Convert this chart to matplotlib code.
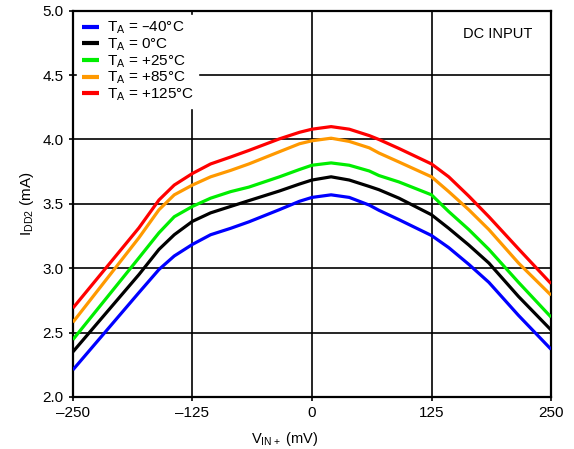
import matplotlib.pyplot as plt

plt.rcParams['font.family'] = ['Liberation Sans', 'DejaVu Sans']
plt.rcParams['mathtext.default'] = 'regular'

vin = [-250, -181, -160, -144, -125, -106, -85, -66, -34, -13, 0, 20, 39, 60, 70, 91,
       125, 143, 164, 185, 216, 250]

idd_m40 = [2.21, 2.81, 2.99, 3.095, 3.185, 3.26, 3.31, 3.36, 3.455, 3.52, 3.55, 3.57,
           3.55, 3.49, 3.45, 3.377, 3.254, 3.16, 3.03, 2.89, 2.633, 2.37]
idd_0 = [2.35, 2.95, 3.146, 3.26, 3.364, 3.43, 3.48, 3.525, 3.60, 3.654, 3.685, 3.71,
         3.685, 3.635, 3.61, 3.544, 3.415, 3.31, 3.18, 3.04, 2.78, 2.52]
idd_25 = [2.445, 3.08, 3.275, 3.40, 3.48, 3.544, 3.595, 3.63, 3.71, 3.767, 3.80, 3.818,
          3.80, 3.755, 3.72, 3.67, 3.57, 3.44, 3.30, 3.146, 2.89, 2.62]
idd_85 = [2.58, 3.236, 3.454, 3.57, 3.646, 3.71, 3.76, 3.81, 3.905, 3.967, 3.99, 4.01,
          3.985, 3.935, 3.895, 3.825, 3.71, 3.595, 3.454, 3.30, 3.04, 2.79]
idd_125 = [2.69, 3.313, 3.53, 3.646, 3.736, 3.81, 3.864, 3.915, 4.005, 4.056, 4.08, 4.10,
           4.08, 4.03, 4.0, 3.93, 3.81, 3.71, 3.56, 3.40, 3.15, 2.88]

labels = ['T$_A$ = –40°C', 'T$_A$ = 0°C', 'T$_A$ = +25°C', 'T$_A$ = +85°C', 'T$_A$ = +125°C']
colors = ['#0000ff', '#000000', '#00ee00', '#ff9900', '#ff0000']

fig = plt.figure(figsize=(5.74, 4.49), dpi=100)
ax = fig.add_axes([0.127, 0.116, 0.833, 0.86])

for y, lab, c in zip([idd_m40, idd_0, idd_25, idd_85, idd_125], labels, colors):
    ax.plot(vin, y, color=c, lw=2.3, label=lab, zorder=3,
            solid_joinstyle='round', solid_capstyle='butt')

ax.set_xlim(-250, 250)
ax.set_ylim(2.0, 5.0)
ax.set_xticks([-250, -125, 0, 125, 250])
ax.set_xticklabels(['–250', '–125', '0', '125', '250'])
ax.set_yticks([2.0, 2.5, 3.0, 3.5, 4.0, 4.5, 5.0])
ax.set_yticklabels(['2.0', '2.5', '3.0', '3.5', '4.0', '4.5', '5.0'])
ax.tick_params(labelsize=11, length=3, width=1.2)
ax.grid(True, color='black', lw=1.2, zorder=1)
ax.set_axisbelow(True)
for s in ax.spines.values():
    s.set_linewidth(1.6)

ax.set_xlabel('V$_{IN+}$ (mV)', fontsize=10.5)
ax.xaxis.set_label_coords(0.442, -0.085)
ax.set_ylabel('I$_{DD2}$ (mA)', fontsize=11, labelpad=5)

leg = ax.legend(loc='upper left', fontsize=11, frameon=True, fancybox=False,
                handlelength=1.1, handletextpad=0.5, labelspacing=0.02,
                borderaxespad=0.3, borderpad=0.3)
leg.get_frame().set_edgecolor('white')
leg.get_frame().set_alpha(1)
leg.set_zorder(5)
for h in leg.get_lines():
    h.set_linewidth(3)

ax.text(0.96, 0.94, 'DC INPUT', transform=ax.transAxes, ha='right', va='center',
        fontsize=10.5)

fig.savefig('out.png', dpi=100)
